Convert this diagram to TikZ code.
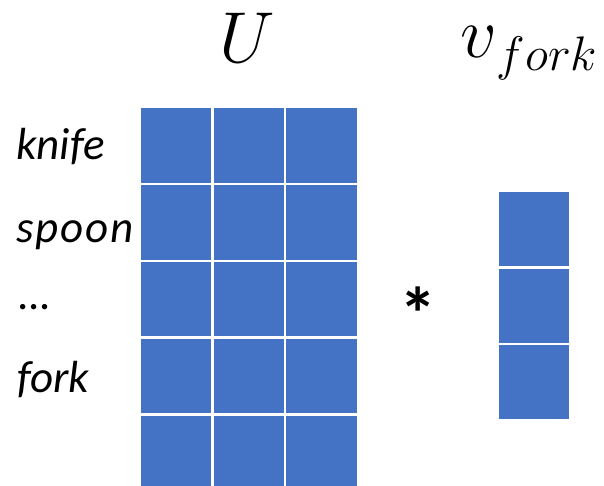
\documentclass[tikz,border=0pt]{standalone}
\usepackage{graphicx}
\usepackage{fontspec}
\setmainfont{Carlito}
\definecolor{cellblue}{HTML}{4472C4}
\begin{document}
\begin{tikzpicture}[x=1pt,y=-1pt,
  cell/.style={fill=cellblue,draw=none},
  lbl/.style={anchor=base west,inner sep=0pt,font=\fontsize{45}{50}\selectfont\itshape},
  mathlbl/.style={anchor=base west,inner sep=0pt,font=\Huge}]
\useasboundingbox (0,0) rectangle (604,486);
% matrix U
\foreach \c in {0,1,2}{
  \foreach \r in {0,...,4}{
    \path[cell] ({141+\c*72.65},{108.3+\r*76.9}) rectangle ++(70.3,74.3);
  }
}
% vector
\foreach \r in {0,1,2}{
  \path[cell] (499,{192+\r*76.65}) rectangle ++(70,74);
}
\node[mathlbl] (U) at (219,63) {\scalebox{2.9}{$U$}};
\node[mathlbl] (v) at (460,58) {\scalebox{2.9}{$v$}\raisebox{-13pt}{\scalebox{1.95}{$fork$}}};
\node[lbl] (knife) at (16,160) {knife};
\node[lbl] (spoon) at (16,242) {\addfontfeatures{LetterSpace=4}spoon};
\node[lbl] (dots) at (19,309) {\ldots};
\node[lbl] (fork) at (17,392) {fork};
\node[inner sep=0pt,font=\fontsize{75}{75}\selectfont\bfseries] (star) at (418,314) {*};
\end{tikzpicture}
\end{document}
